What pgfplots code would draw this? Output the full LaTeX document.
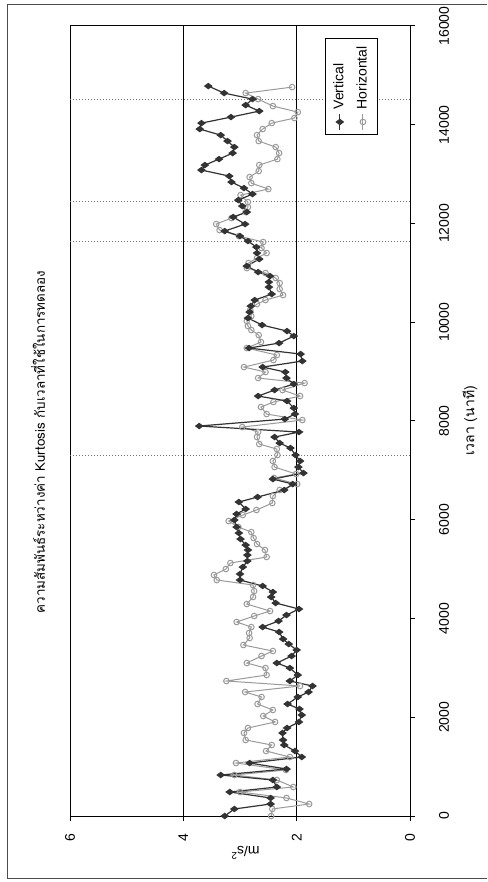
\documentclass[border=0pt]{standalone}
\usepackage{fontspec}
\setmainfont{Liberation Sans}
\newfontfamily\thaifont[Script=Thai]{Loma}
\usepackage{pgfplots}
\usepackage{pgfplotstable}
\pgfplotsset{compat=1.18}

% Kurtosis (m/s^2) against elapsed time (minutes)
\pgfplotstableread{
t v
0 3.27
142 3.10
243 2.46
365 2.46
486 3.18
587 2.35
729 2.42
830 3.34
952 2.18
1073 2.83
1195 1.91
1316 2.03
1438 2.22
1539 2.24
1681 2.25
1782 2.17
1904 1.96
2045 1.91
2167 1.95
2268 2.16
2410 1.98
2511 1.79
2633 1.72
2734 2.12
2855 1.98
2997 2.12
3098 2.35
3240 2.09
3362 2.00
3483 2.14
3584 2.24
3726 2.31
3827 2.60
3949 2.32
4070 2.18
4192 1.96
4313 2.37
4435 2.45
4536 2.42
4658 2.60
4779 3.00
4901 3.00
5042 2.95
5164 2.87
5285 2.87
5387 2.86
5488 2.90
5609 2.99
5731 3.02
5852 3.06
5994 3.10
6116 3.06
6217 2.90
6359 3.02
6460 2.69
6602 2.22
6723 2.07
6824 2.42
6946 1.88
7067 1.97
7189 1.94
7310 2.02
7452 2.11
7553 2.30
7675 2.39
7776 1.96
7898 3.72
8039 2.21
8141 2.03
8262 2.05
8404 2.17
8505 2.68
8627 2.39
8748 2.05
8870 2.18
8991 2.20
9092 2.60
9214 1.90
9356 1.93
9477 2.84
9578 2.31
9720 2.05
9821 2.17
9943 2.61
10085 2.86
10206 2.83
10328 2.81
10449 2.74
10571 2.44
10712 2.49
10814 2.49
10935 2.47
11016 2.68
11138 2.88
11279 2.66
11401 2.70
11522 2.71
11644 2.86
11745 3.00
11846 3.27
11988 2.91
12130 3.12
12231 2.88
12353 2.96
12474 3.03
12596 2.78
12717 2.93
12839 3.15
12960 3.19
13082 3.68
13183 3.62
13304 3.37
13426 3.13
13547 3.10
13669 3.22
13790 3.34
13912 3.71
14033 3.68
14155 3.16
14276 2.66
14398 2.90
14519 2.78
14641 3.28
14783 3.56
}\vertical

\pgfplotstableread{
t v
0 2.45
142 2.43
243 1.78
365 2.18
486 3.00
587 2.06
729 2.35
830 3.10
932 2.19
1073 3.07
1195 2.12
1316 2.54
1438 2.44
1539 2.90
1681 2.93
1782 2.86
1904 2.38
2025 2.59
2147 2.42
2268 2.69
2410 2.62
2511 2.91
2633 1.94
2734 3.24
2855 2.53
2997 2.55
3098 2.88
3240 2.62
3341 2.42
3463 2.94
3605 2.83
3706 2.84
3827 2.80
3929 3.06
4050 2.75
4151 2.47
4293 2.88
4435 2.77
4556 2.75
4678 2.77
4779 3.41
4880 3.46
5002 3.25
5123 3.17
5245 2.53
5387 2.56
5508 2.70
5630 2.76
5751 2.80
5852 3.03
5974 3.20
6095 2.95
6197 2.71
6338 2.43
6480 2.42
6602 2.30
6723 1.99
6845 2.40
6926 2.01
7067 2.39
7189 2.42
7310 2.34
7432 2.35
7533 2.66
7675 2.70
7776 2.68
7877 2.96
8019 1.90
8141 2.53
8282 2.63
8384 2.41
8505 1.94
8627 2.25
8768 1.86
8870 2.68
8991 2.55
9092 2.93
9234 2.41
9335 2.35
9477 2.88
9599 2.63
9740 2.67
9842 2.80
9923 2.86
10024 2.88
10125 2.80
10247 2.82
10368 2.70
10449 2.55
10550 2.24
10672 2.30
10793 2.30
10895 2.37
10996 2.55
11097 2.88
11198 2.85
11300 2.70
11401 2.53
11502 2.62
11624 2.59
11745 3.02
11867 3.36
11988 3.42
12110 3.15
12231 2.90
12332 2.86
12434 2.86
12575 2.99
12697 2.50
12818 2.80
12940 2.83
13061 2.67
13183 2.66
13304 2.34
13426 2.31
13547 2.37
13669 2.67
13790 2.70
13912 2.60
14033 2.44
14135 2.04
14256 1.98
14378 2.42
14519 2.68
14641 2.90
14762 2.08
}\horizontal

\definecolor{vline}{HTML}{333333}
\definecolor{hline}{HTML}{9A9A9A}

\begin{document}
\begin{tikzpicture}[rotate=90, transform shape]
\useasboundingbox (-33pt,-38.5pt) rectangle (408pt,205pt);
% chart area frame
\draw[black!70, line width=0.5pt] (-31pt,-38.5pt) -- (-31pt,201pt) -- (405.5pt,201pt) -- (405.5pt,-38.5pt);
\begin{axis}[
  at={(0pt,0pt)}, anchor=south west,
  scale only axis, width=395pt, height=170pt,
  xmin=0, xmax=16000, ymin=0, ymax=6,
  xtick={0,2000,...,16000}, ytick={0,2,4,6},
  scaled x ticks=false,
  tick pos=left, tick align=outside, major tick length=2.5pt,
  axis line style={black, line width=0.5pt},
  tick style={black, line width=0.5pt},
  ymajorgrids, grid style={black, line width=0.5pt},
  /pgf/number format/assume math mode=true,
  /pgf/number format/set thousands separator={},
  ticklabel style={font=\fontsize{7}{8}\selectfont},
  xticklabel style={yshift=-8.5pt},
  yticklabel style={xshift=-3pt},
  xlabel={\thaifont เวลา (นาที)},
  ylabel={m/s\textsuperscript{2}},
  label style={font=\fontsize{7}{8}\selectfont},
  x label style={at={(axis description cs:0.5,-0.176)}, anchor=center},
  y label style={at={(axis description cs:-0.047,0.485)}, anchor=center},
  reverse legend,
  legend style={at={(0.985,0.094)}, anchor=south east, draw=black, fill=white,
    line width=0.5pt, font=\fontsize{7}{8}\selectfont, inner sep=2pt,
    row sep=1pt, legend cell align=left},
  legend image code/.code={
    \draw[mark repeat=2, mark phase=2] plot coordinates {(0pt,0pt) (4pt,0pt) (8pt,0pt)};
  },
]
% phase boundaries
\addplot[forget plot, densely dotted, black!55, line width=0.5pt] coordinates {(7300,0) (7300,6)};
\addplot[forget plot, densely dotted, black!55, line width=0.5pt] coordinates {(11640,0) (11640,6)};
\addplot[forget plot, densely dotted, black!55, line width=0.5pt] coordinates {(12450,0) (12450,6)};
\addplot[forget plot, densely dotted, black!55, line width=0.5pt] coordinates {(14510,0) (14510,6)};

\addplot[hline, line width=0.5pt, mark=o, mark size=1.4pt,
  mark options={fill=white, draw=hline, line width=0.5pt}] table[x=t, y=v] {\horizontal};
\addplot[vline, line width=0.6pt, mark=diamond*, mark size=1.7pt,
  mark options={fill=vline, draw=vline}] table[x=t, y=v] {\vertical};
\legend{Horizontal, Vertical}
\end{axis}
\node[font=\thaifont\fontsize{6.7}{8}\selectfont] at (187pt,186pt)
  {ความสัมพันธ์ระหว่างค่า Kurtosis กับเวลาที่ใช้ในการทดลอง};
\end{tikzpicture}
\end{document}
